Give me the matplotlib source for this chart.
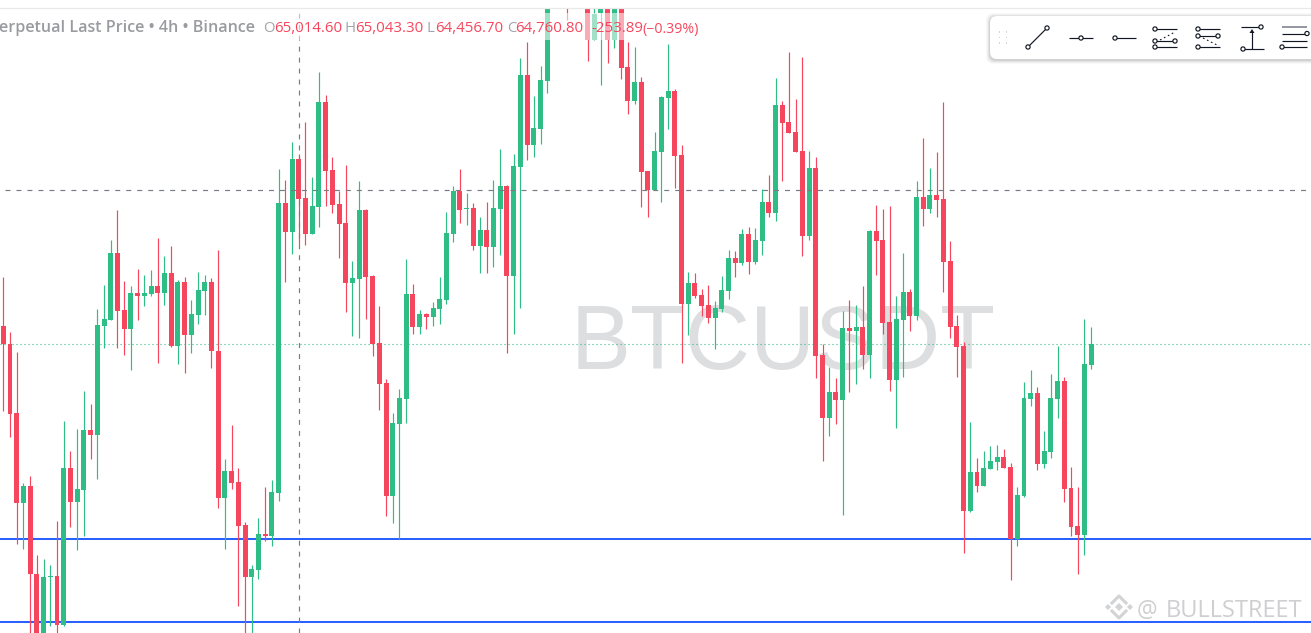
#!/usr/bin/env python3

# imports
import matplotlib
matplotlib.use('Agg')
import matplotlib.pyplot as plt
from matplotlib.patches import FancyBboxPatch, Rectangle, Circle, Polygon

# candles, in chart points (no price axis is visible)
opens = [
    62740, 62560, 61870, 60970, 61140, 60260, 59600, 60230, 60240, 59755,
    61320, 60980, 61100, 61700, 61650, 62740, 62800, 63470, 62900, 62710,
    63070, 63040, 63060, 63140, 63070, 63270, 62540, 63180, 62650, 62850,
    63090, 63180, 62490, 61020, 61290, 61180, 60750, 60230, 60300, 60660,
    60640, 61070, 63970, 63680, 64410, 64020, 63660, 63930, 64980, 64300,
    63960, 63770, 63175, 63210, 63900, 63240, 62570, 62170, 61040, 61760,
    62010, 63060, 62730, 62860, 62830, 62910, 63000, 63660, 64090, 63910,
    63920, 63540, 63700, 63530, 63910, 64140, 63240, 64330, 65250, 64550,
    64710, 65190, 66050, 66200, 66200, 66100, 66300, 66050, 65600, 65870,
    66000, 65600, 66000, 65330, 64990, 65180, 64290, 64100, 64480, 65020,
    65090, 64450, 62960, 63170, 63050, 62950, 62820, 62910, 63090, 63420,
    63370, 63660, 63380, 63590, 63980, 63870, 64950, 64780, 64680, 64490,
    63640, 64320, 62450, 61820, 62080, 62000, 62720, 62690, 62730, 62450,
    63690, 63600, 62780, 62200, 62800, 63080, 62840, 64030, 63910, 64050,
    64010, 63390, 62740, 62540, 60890, 61280, 61140, 61310, 61380, 61430,
    61330, 60610, 61040, 62010, 62070, 61360, 61480, 62010, 62190, 61120,
    60740, 60650, 62350,
]
highs = [
    63230, 62680, 62480, 61170, 61240, 60450, 60410, 60350, 60790, 61790,
    61490, 61710, 62090, 61960, 62910, 63150, 63600, 63900, 63190, 63140,
    63310, 63250, 63300, 63620, 63440, 63540, 63200, 63230, 63000, 63280,
    63250, 63220, 63500, 61410, 61750, 61320, 60780, 60350, 60820, 61130,
    61200, 64310, 64200, 64580, 64460, 64780, 64230, 65280, 65050, 64430,
    64090, 64350, 63390, 64190, 63910, 63250, 62940, 62210, 61870, 62110,
    63410, 63160, 62900, 62870, 62980, 63230, 63880, 64140, 64310, 64070,
    63970, 63830, 63980, 64200, 64510, 64150, 64460, 65420, 65580, 65040,
    65340, 66100, 66300, 66300, 66300, 66400, 66400, 66100, 66100, 66200,
    66100, 66050, 66050, 65580, 65530, 65230, 64290, 64680, 65040, 65560,
    65110, 64550, 63280, 63270, 63110, 63150, 62990, 63240, 63500, 63490,
    63710, 63730, 63720, 64110, 64250, 65220, 64990, 65480, 65010, 65430,
    64490, 64430, 62560, 62330, 62220, 62890, 63000, 62950, 63140, 63700,
    63950, 63910, 63940, 63040, 63470, 63110, 64190, 64620, 64320, 64480,
    64980, 63590, 62850, 62580, 61780, 61420, 61490, 61540, 61550, 61510,
    61370, 61130, 62180, 62300, 62130, 61690, 62260, 62540, 62230, 61330,
    61130, 62810, 62730,
]
lows = [
    61890, 61630, 60560, 60510, 59600, 59500, 59500, 59740, 59600, 59740,
    60730, 60500, 60640, 61410, 61210, 62520, 62800, 62520, 62450, 62300,
    62800, 62940, 63040, 62370, 62950, 62530, 62360, 62270, 62470, 62760,
    62850, 62320, 60920, 60510, 61110, 59940, 59600, 59600, 60210, 60590,
    60540, 60990, 63180, 63460, 63560, 63550, 63660, 63730, 63940, 63870,
    63420, 62880, 62640, 62620, 62810, 62440, 61900, 60840, 60770, 60610,
    61770, 62660, 62660, 62710, 62740, 62760, 62960, 63580, 63770, 63750,
    63500, 63270, 63270, 63330, 63450, 62470, 62660, 62920, 64400, 64430,
    64560, 65070, 66020, 66020, 65800, 66080, 66080, 65390, 65600, 65150,
    65370, 65520, 65210, 64860, 64960, 63930, 63830, 64100, 63980, 64710,
    64120, 62370, 62650, 63020, 62840, 62770, 62510, 62880, 63010, 63230,
    63350, 63260, 63360, 63450, 63830, 63790, 64190, 64670, 64480, 63440,
    63600, 62220, 61390, 61640, 61760, 60850, 62080, 62160, 62310, 62220,
    63250, 62660, 62090, 61720, 62230, 62690, 62800, 63740, 63870, 63830,
    63080, 62620, 62230, 60470, 60880, 61080, 61140, 61310, 61300, 61320,
    60200, 60540, 61030, 61940, 61300, 61320, 61420, 61820, 60980, 60640,
    60260, 60450, 62310,
]
closes = [
    62560, 61860, 60970, 61140, 60260, 59600, 60230, 60240, 59755, 61320,
    60980, 61110, 61700, 61650, 62750, 62810, 63470, 62890, 62710, 63070,
    63040, 63070, 63140, 63070, 63270, 62540, 63180, 62650, 62860, 63100,
    63180, 62490, 61020, 61290, 61170, 60740, 60230, 60310, 60660, 60640,
    61080, 63970, 63680, 64410, 64010, 63660, 63940, 64980, 64290, 63950,
    63760, 63175, 63220, 63900, 63230, 62560, 62160, 61040, 61770, 62020,
    63060, 62730, 62860, 62830, 62920, 63010, 63670, 64090, 63900, 63920,
    63540, 63700, 63530, 63920, 64140, 63240, 64340, 65250, 64550, 64720,
    65200, 66000, 66200, 66050, 65970, 66300, 66100, 65600, 65860, 66100,
    65600, 66000, 65320, 64990, 65180, 64280, 64100, 64490, 65030, 65090,
    64440, 62960, 63170, 63040, 62940, 62820, 62920, 63100, 63420, 63370,
    63660, 63380, 63600, 63980, 63870, 64950, 64770, 64670, 64480, 63640,
    64320, 62440, 61820, 62080, 62000, 62720, 62690, 62730, 62450, 63690,
    63590, 62770, 62200, 62810, 63080, 62840, 64030, 63910, 64050, 64000,
    63380, 62730, 62530, 60890, 61280, 61140, 61320, 61390, 61430, 61320,
    60610, 61050, 62020, 62070, 61360, 61490, 62020, 62190, 61110, 60730,
    60650, 62360, 62560,
]

# horizontal levels and the crosshair, same units
blue_levels = [60610, 59780]
last_price = 62560
cross_price = 64100
cross_index = 44

# header text
symbol_text = 'erpetual Last Price \u2022 4h \u2022 Binance'
ohlc_labels = ['O', 'H', 'L', 'C']
ohlc_values = ['65,014.60', '65,043.30', '64,456.70', '64,760.80']
change_text = ['-253.89', '(\u22120.39%)']

GREEN = '#2EBD85'
RED = '#F6465D'
BLUE = '#2962FF'
GREY = '#787B86'

W, H = 1311, 633
fig = plt.figure(figsize=(W / 100, H / 100), dpi=100, facecolor='white')

# chart area, starts just under the thin line at the top
ax = fig.add_axes([0, 0, 1, (H - 8) / H])
ax.set_xlim(-0.49, 194.74)
ax.set_ylim(59670, 65920)
ax.axis('off')

# pixel layer for everything that is not data
top = fig.add_axes([0, 0, 1, 1], zorder=5)
top.set_xlim(0, W)
top.set_ylim(H, 0)
top.axis('off')
top.patch.set_alpha(0)

xs = list(range(len(opens)))
colors = [GREEN if c >= o else RED for o, c in zip(opens, closes)]
bottoms = [min(o, c) for o, c in zip(opens, closes)]
heights = [abs(c - o) for o, c in zip(opens, closes)]

ax.text(571, 369, 'BTCUSDT', transform=top.transData, family='Liberation Sans',
        fontsize=64.8, color='#DDDEE0', ha='left', va='baseline', zorder=1, clip_on=False)
ax.axhline(last_price, color=GREEN, lw=0.8, ls=(0, (1, 2.6)), zorder=1.5)
for level in blue_levels:
    ax.axhline(level, color=BLUE, lw=1.45, zorder=1.8)
ax.vlines(xs, lows, highs, colors=colors, lw=0.85, zorder=2)
ax.bar(xs, heights, bottom=bottoms, width=0.74, color=colors, lw=0, zorder=3)
ax.plot([0.25, 195], [cross_price, cross_price], color=GREY, lw=0.85, ls=(0, (4.2, 5.1)), zorder=5)
ax.axvline(cross_index, color=GREY, lw=0.85, ls=(0, (4.2, 5.1)), zorder=5)

# top rule and the pale strip behind the header
top.plot([0, W], [7.5, 7.5], color='#E9E9EA', lw=0.9)
top.add_patch(Rectangle((0, 13), 700, 27, color='white', alpha=0.55, lw=0))

# header
hdr = dict(family='Open Sans', fontsize=10.8, va='baseline', ha='left')
top.text(-1, 32.5, symbol_text, color='#999BA0', fontweight='semibold',
         family='Open Sans', fontsize=11.6, va='baseline', ha='left')
for lab, val, lx, vx in zip(ohlc_labels, ohlc_values, [263, 345, 427, 507], [274, 355, 435, 515]):
    top.text(lx, 32.5, lab, color='#A3A5AA', **hdr)
    top.text(vx, 32.5, val, color=RED, **hdr)
top.text(591, 32.5, change_text[0], color=RED, **hdr)
top.text(642, 32.5, change_text[1], color=RED, family='Open Sans', fontsize=10.2, va='baseline', ha='left')

# floating toolbar
for grow, a in [(4, 0.025), (3, 0.035), (2, 0.05), (1, 0.07)]:
    top.add_patch(FancyBboxPatch((990 - grow, 16 - grow + 1), 340 + 2 * grow, 43 + 2 * grow,
                                 boxstyle='round,pad=0,rounding_size=7', fc='black', ec='none', alpha=a))
top.add_patch(FancyBboxPatch((990, 16), 340, 43, boxstyle='round,pad=0,rounding_size=7', fc='white', ec='none'))
for dx in (999.5, 1006.5):
    for dy in (32, 37.5, 43):
        top.add_patch(Rectangle((dx - 0.8, dy - 0.8), 1.6, 1.6, color='#D4D5D8', lw=0))


def seg(x0, y0, x1, y1, **kw):
    kw.setdefault('color', '#131722')
    kw.setdefault('lw', 0.85)
    top.plot([x0, x1], [y0, y1], solid_capstyle='butt', **kw)


def knob(x, y):
    top.add_patch(Circle((x, y), 2.1, fc='white', ec='#131722', lw=0.85, zorder=6))


seg(1028, 47, 1047, 28)
knob(1028, 47)
knob(1047, 28)
seg(1069, 38, 1093, 38)
knob(1081, 38)
seg(1115, 38, 1136, 38)
knob(1115, 38)
# fib style icons
seg(1155, 29, 1177, 29)
seg(1155, 41, 1175, 41)
seg(1155, 47, 1177, 47)
seg(1160, 40, 1175, 32, ls=(0, (1.5, 2.5)), lw=0.8)
for kx, ky in [(1155, 29), (1155, 41), (1175, 41), (1155, 47)]:
    knob(kx, ky)
seg(1198, 29, 1220, 29)
seg(1198, 36, 1218, 36)
seg(1198, 47, 1220, 47)
seg(1203, 38, 1219, 46, ls=(0, (1.5, 2.5)), lw=0.8)
for kx, ky in [(1198, 29), (1198, 36), (1218, 36), (1198, 47)]:
    knob(kx, ky)
seg(1241, 27, 1261, 27)
seg(1243, 49, 1264, 49)
seg(1252, 49, 1252, 31)
top.add_patch(Polygon([(1252, 29), (1249.5, 33), (1254.5, 33)], color='#131722', lw=0))
knob(1261, 27)
knob(1243, 49)
seg(1282, 27, 1307, 27, color='#787B86', lw=1.1)
seg(1282, 33.5, 1307, 33.5)
seg(1282, 41, 1307, 41)
seg(1282, 47, 1307, 47)
knob(1307, 33.5)
knob(1282, 47)

# corner mark
MARK = '#D2D3D5'
for pts in ([(1112, 603), (1119, 596), (1126, 603)], [(1112, 611), (1119, 618), (1126, 611)]):
    top.plot(*zip(*pts), color=MARK, lw=2.2)
for cx, cy, r in [(1108, 607, 3), (1130, 607, 3), (1119, 607, 4)]:
    top.add_patch(Polygon([(cx - r, cy), (cx, cy - r), (cx + r, cy), (cx, cy + r)], color=MARK, lw=0))
top.text(1137, 617, '@', family='Open Sans', fontsize=16.5, color='#CFCFD1', va='baseline')
top.text(1166, 617, 'BULLSTREET', family='Open Sans', fontsize=17, color='#CFCFD1', va='baseline')

fig.savefig('out.png', dpi=100, facecolor='white')
